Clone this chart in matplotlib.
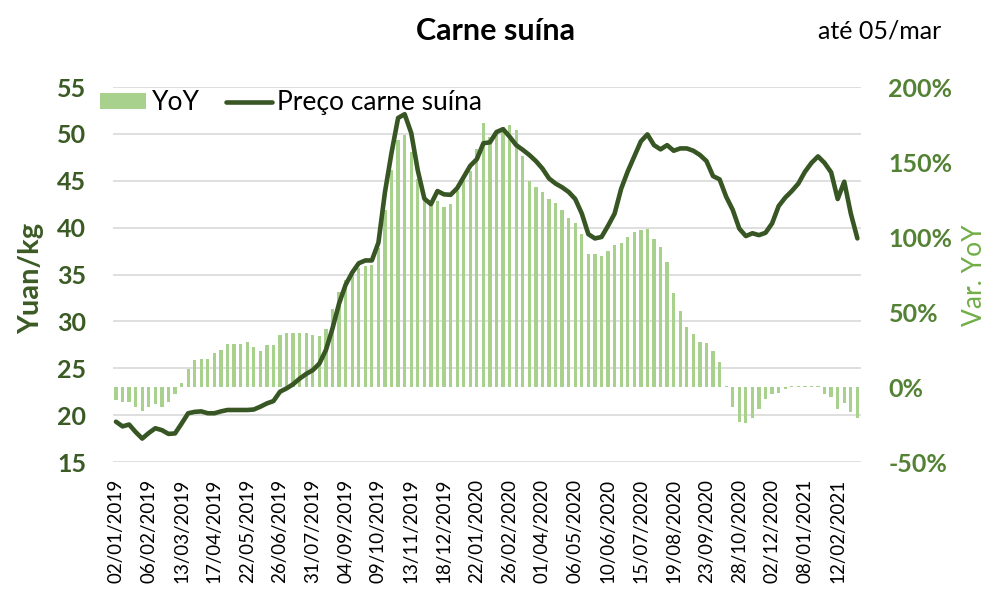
import matplotlib
matplotlib.use('Agg')
import matplotlib.pyplot as plt
import numpy as np

plt.rcParams['font.family'] = ['Lato', 'DejaVu Sans']

# preço semanal da carne suína (yuan/kg), 02/01/2019 a 05/03/2021
preco = [19.3, 18.8, 19.0, 18.2, 17.5, 18.1, 18.6, 18.4, 18.0, 18.05,
         19.1, 20.2, 20.35, 20.4, 20.2, 20.2, 20.4, 20.55, 20.55, 20.55,
         20.55, 20.6, 20.9, 21.25, 21.5, 22.5, 22.85, 23.3, 23.9, 24.4,
         24.8, 25.5, 26.95, 29.25, 31.9, 33.9, 35.2, 36.2, 36.5, 36.5,
         38.4, 43.8, 48.0, 51.7, 52.1, 50.1, 46.1, 43.1, 42.5, 43.9,
         43.55, 43.5, 44.2, 45.4, 46.6, 47.3, 49.0, 49.1, 50.2, 50.5,
         49.7, 48.8, 48.3, 47.75, 47.1, 46.3, 45.25, 44.7, 44.3, 43.8,
         43.05, 41.5, 39.3, 38.85, 39.0, 40.2, 41.5, 44.15, 46.0, 47.6,
         49.2, 49.95, 48.8, 48.35, 48.8, 48.2, 48.45, 48.45, 48.2, 47.75,
         47.1, 45.5, 45.15, 43.3, 41.9, 39.9, 39.1, 39.4, 39.2, 39.45,
         40.45, 42.3, 43.2, 43.9, 44.7, 45.95, 46.9, 47.6, 46.9, 45.9,
         43.05, 44.9, 41.5, 38.85]

# variação anual (%)
yoy = [-8.7, -9.8, -9.8, -13.3, -15.8, -13.3, -11.3, -13.3, -9.8, -4.9,
       2.4, 12, 18, 19, 19, 23, 25, 28.7, 29, 29,
       30, 27, 24, 28, 28, 34.7, 36.2, 36.2, 36.2, 35.8,
       35, 34, 38.7, 51.8, 63.6, 71.2, 77, 79.5, 80.5, 81.2,
       93, 118, 145, 165, 168, 157, 139, 125, 122, 124,
       120, 122, 131, 138, 144, 159, 176, 167, 170, 173.5,
       175, 171.3, 154, 137.3, 133.5, 130, 125.2, 122.4, 118, 113,
       109.3, 102, 88.7, 88.7, 87.3, 91, 94.5, 96.2, 99.8, 103.1,
       104.7, 105.3, 98.4, 93.6, 83.6, 62.9, 50.9, 39.8, 35.1, 30.2,
       29.1, 24.2, 16.9, 0.5, -13.1, -23.1, -24.2, -20.4, -14.4, -8.2,
       -4.7, -3.8, -1.1, 0.5, 0.5, 0.6, 0.5, 0.5, -4.7, -6.9,
       -14.4, -10.9, -16.9, -20.4]

rotulos = ['02/01/2019', '06/02/2019', '13/03/2019', '17/04/2019', '22/05/2019',
           '26/06/2019', '31/07/2019', '04/09/2019', '09/10/2019', '13/11/2019',
           '18/12/2019', '22/01/2020', '26/02/2020', '01/04/2020', '06/05/2020',
           '10/06/2020', '15/07/2020', '19/08/2020', '23/09/2020', '28/10/2020',
           '02/12/2020', '08/01/2021', '12/02/2021']
passo = 5

ticks_preco = [15, 20, 25, 30, 35, 40, 45, 50, 55]
ticks_yoy = [-50, 0, 50, 100, 150, 200]

verde_linha = '#375623'
verde_barra = '#A9D18E'
verde_esq = '#3B5B25'
verde_dir = '#548235'
cinza = '#D9D9D9'

fig = plt.figure(figsize=(9.92, 5.98), dpi=100)
ax = fig.add_axes([0.1136, 0.2274, 0.754, 0.6271])
ax2 = ax.twinx()

x = np.arange(len(preco))

# grade (segue os ticks do eixo da esquerda) atrás das barras
for v in ticks_preco:
    ax2.axhline(-50 + (v - 15) * 250 / 40, color=cinza, lw=1.2, zorder=0)

barras = ax2.bar(x, yoy, width=0.5, color=verde_barra, zorder=2, label='YoY')
linha, = ax.plot(x, preco, color=verde_linha, lw=3.3, solid_joinstyle='round',
                 solid_capstyle='round', label='Preço carne suína')

ax.set_zorder(ax2.get_zorder() + 1)
ax.patch.set_visible(False)

ax.set_xlim(-0.5, len(preco) - 0.5)
ax.set_ylim(15, 55)
ax2.set_ylim(-50, 200)

ax.set_yticks(ticks_preco)
ax.set_yticklabels([str(v) for v in ticks_preco], fontsize=18, fontweight='bold', color=verde_esq)
ax2.set_yticks(ticks_yoy)
ax2.set_yticklabels([f'{v}%' for v in ticks_yoy], fontsize=18, fontweight='bold', color=verde_dir)

ax.set_xticks(x[::passo])
ax.set_xticklabels(rotulos, rotation=90, fontsize=13.5, color='#000000')

ax.tick_params(axis='y', length=0, pad=19)
ax2.tick_params(axis='y', length=0, pad=20)
ax.tick_params(axis='x', length=0, pad=12)

for a in (ax, ax2):
    for s in a.spines.values():
        s.set_visible(False)

fig.text(0.5, 0.948, 'Carne suína', ha='center', va='center', fontsize=22, fontweight='bold')
fig.text(0.887, 0.948, 'até 05/mar', ha='center', va='center', fontsize=18)
fig.text(0.031, 0.535, 'Yuan/kg', rotation=90, ha='center', va='center', fontsize=21,
         fontweight='bold', color=verde_esq)
fig.text(0.982, 0.54, 'Var. YoY', rotation=90, ha='center', va='center', fontsize=19,
         color='#70AD47')

fig.legend(handles=[barras, linha], loc='center left', bbox_to_anchor=(0.101, 0.828),
           ncol=2, frameon=False, fontsize=19, borderpad=0, borderaxespad=0,
           handlelength=1.75, handleheight=0.6, handletextpad=0.2, columnspacing=1.0)

fig.savefig('out.png', dpi=100)
